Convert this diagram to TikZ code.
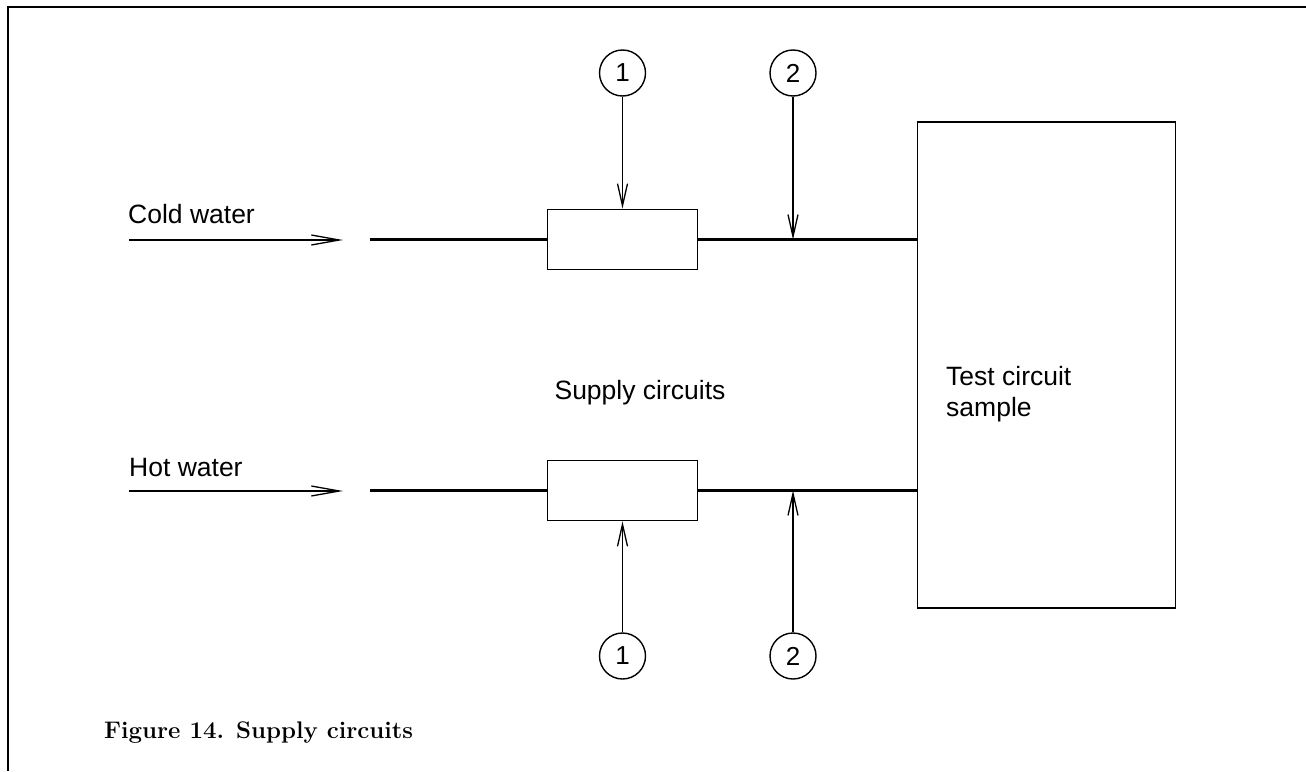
\documentclass[tikz,border=0pt]{standalone}
\usepackage{fontspec}
\setsansfont{Liberation Sans}
\usetikzlibrary{arrows.meta}
\begin{document}
\begin{tikzpicture}[x=1pt,y=-1pt,
  frameline/.style={line width=2pt},
  pipe/.style={line width=3pt},
  harr/.style={line width=1.3pt,-{Straight Barb[length=28pt,width=10pt,line width=1.3pt]}},
  varr/.style={line width=1.3pt,-{Straight Barb[length=22pt,width=10pt,line width=1.3pt]}},
  valve/.style={draw,line width=1.8pt,minimum width=150pt,minimum height=60pt,inner sep=0pt},
  tag/.style={draw,circle,line width=1.4pt,minimum size=46pt,inner sep=0pt,font=\sffamily\fontsize{26}{30}\selectfont},
  lbl/.style={font=\sffamily\fontsize{26.5}{31}\selectfont,inner sep=0pt}
]
\useasboundingbox (0,0) rectangle (1306,771);
% frame
\draw[frameline] (8,771) -- (8,7) -- (1306,7);
% test box
\node[draw,line width=1.8pt,minimum width=258pt,minimum height=486pt,inner sep=0pt] (T) at (1046.5,365) {};
\node[lbl,align=left,anchor=west] (Tlbl) at (946,394) {Test circuit\\sample};
% valves
\node[valve] (bt) at (622.5,239.5) {};
\node[valve] (bb) at (622.5,490.5) {};
% inlet labels and arrows
\node[lbl,anchor=west] (cw) at (128,214) {Cold water};
\node[lbl,anchor=west] (hw) at (129,468) {Hot water};
\coordinate (cwa) at (129,240);
\coordinate (cwb) at (343,240);
\coordinate (hwa) at (129,491);
\coordinate (hwb) at (343,491);
\draw[harr] (cwa) -- (cwb);
\draw[harr] (hwa) -- (hwb);
% pipes
\coordinate (cp) at (370,239.5);
\coordinate (hp) at (370,490.5);
\draw[pipe] (cp) -- (bt.west);
\draw[pipe] (hp) -- (bb.west);
\draw[pipe] (bt.east) -- (bt.east -| T.west);
\draw[pipe] (bb.east) -- (bb.east -| T.west);
% centre label
\node[lbl] (sc) at (640,393) {Supply circuits};
% tags
\node[tag] (c1t) at (622.5,73) {1};
\node[tag] (c2t) at (793,73) {2};
\node[tag] (c1b) at (622.5,656) {1};
\node[tag] (c2b) at (793,656) {2};
\coordinate (j2t) at (793,239.5);
\coordinate (j2b) at (793,490.5);
\draw[varr] (c1t) -- (bt.north);
\draw[varr] (c2t) -- (j2t);
\draw[varr] (c1b) -- (bb.south);
\draw[varr] (c2b) -- (j2b);
% caption
\node[anchor=west,inner sep=0pt,font=\rmfamily\bfseries\fontsize{24}{28}\selectfont] (cap) at (104,733) {Figure 14. Supply circuits};
\end{tikzpicture}
\end{document}
